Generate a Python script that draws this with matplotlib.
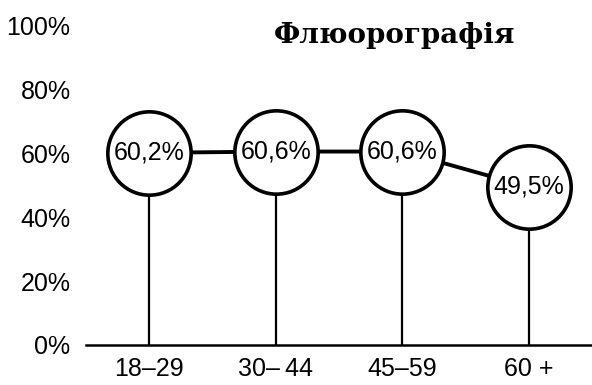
import matplotlib.pyplot as plt

age_groups = ["18–29", "30–\u200944", "45–59", "60 +"]
values = [60.2, 60.6, 60.6, 49.5]
value_labels = ["60,2%", "60,6%", "60,6%", "49,5%"]
yticks = [0, 20, 40, 60, 80, 100]

plt.rcParams['font.family'] = ['Liberation Sans', 'DejaVu Sans']

fig = plt.figure(figsize=(5.92, 3.85), dpi=100)
ax = fig.add_axes([0.145, 0.104, 0.855, 0.829])

x = range(len(values))

# stems from the axis up to each value
ax.vlines(x, 0, values, color="black", linewidth=1.6, zorder=1)
# line joining the values
ax.plot(x, values, color="black", linewidth=2.8, zorder=2)
# circles with labels
ax.plot(x, values, "o", markersize=60, markerfacecolor="white",
        markeredgecolor="black", markeredgewidth=2.6, zorder=3)
for xi, v, lab in zip(x, values, value_labels):
    ax.text(xi, v, lab, ha="center", va="center", fontsize=18, zorder=4)

ax.set_xlim(-0.5, 3.5)
ax.set_ylim(0, 100)
ax.set_yticks(yticks)
ax.set_yticklabels([f"{t}%" for t in yticks])
ax.set_xticks(list(x))
ax.set_xticklabels(age_groups)
ax.tick_params(axis="both", length=0, labelsize=18)
ax.tick_params(axis="y", pad=11)
ax.tick_params(axis="x", pad=9)

for side in ["top", "right", "left"]:
    ax.spines[side].set_visible(False)
ax.spines["bottom"].set_linewidth(1.8)

fig.text(0.667, 0.909, "Флюорографія", ha="center", va="center",
         fontsize=20, fontweight="bold", family="DejaVu Serif")

fig.savefig("out.png", dpi=100)
